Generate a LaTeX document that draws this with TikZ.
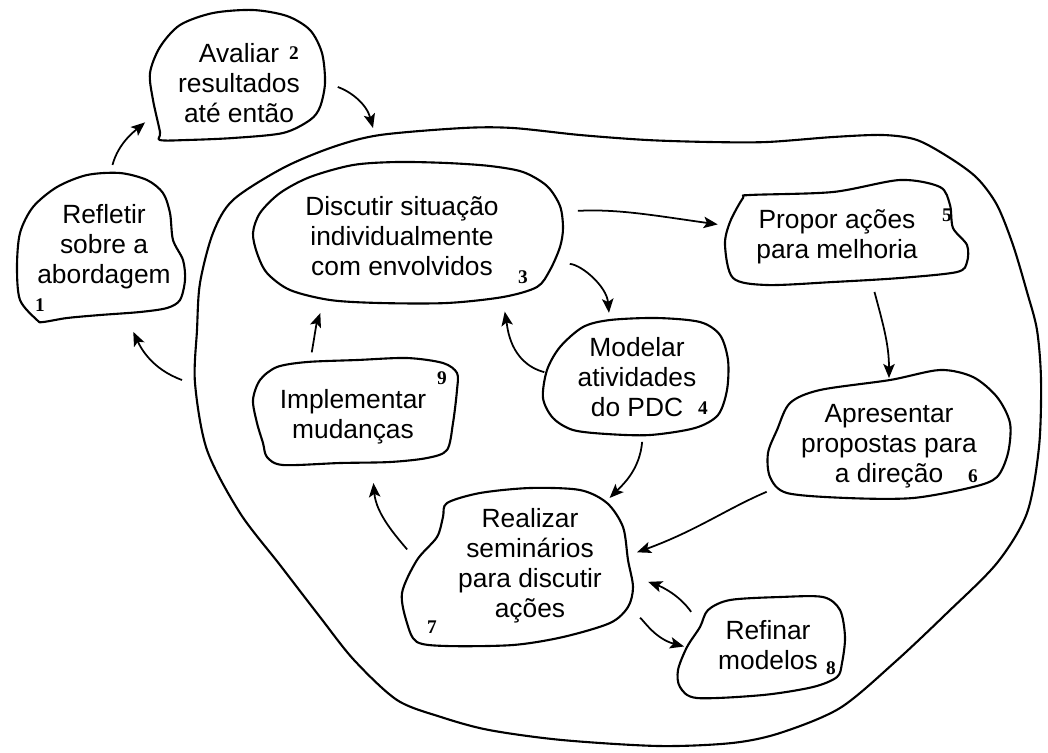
\documentclass[tikz,border=0pt]{standalone}
\usepackage{fontspec}
\setmainfont{Liberation Sans}
\newfontfamily\numfamily{Liberation Serif}
\usetikzlibrary{shapes.geometric,arrows.meta}

\begin{document}
\begin{tikzpicture}[x=0.02cm, y=-0.02cm, >={Stealth[length=8pt,width=6.5pt,inset=1.8pt]}]
    \tikzstyle{stepnode} = [shape=ellipse, align=center, inner sep=0pt, outer sep=0pt, font=\fontsize{15}{17}\selectfont]
    \tikzstyle{blob} = [draw, line width=1.2pt, line join=round]
    \tikzstyle{num} = [font=\numfamily\bfseries\fontsize{11}{11}\selectfont, inner sep=0pt]
    \tikzstyle{flow} = [->, line width=1pt]
    \useasboundingbox (0,0) rectangle (1048,752);

    %Creating Steps and Numbers
    \node[stepnode, minimum width=3.8cm, minimum height=3.0cm] (s1) at (104,247) {Refletir\\sobre a\\abordagem};
    \node[stepnode, minimum width=3.52cm, minimum height=2.6cm] (s2) at (239,83) {Avaliar\\resultados\\até então};
    \node[stepnode, minimum width=6.4cm, minimum height=2.8cm] (s3) at (402,236) {Discutir situação\\individualmente\\com envolvidos};
    \node[stepnode, minimum width=3.72cm, minimum height=2.48cm] (s4) at (637,377) {Modelar\\atividades\\do PDC};
    \node[stepnode, minimum width=4.84cm, minimum height=2.08cm] (s5) at (837,237) {Propor ações\\para melhoria};
    \node[stepnode, minimum width=4.98cm, minimum height=2.56cm] (s6) at (889,446) {Apresentar\\propostas para\\a direção};
    \node[stepnode, minimum width=4.24cm, minimum height=3.28cm] (s7) at (530,566) {Realizar\\seminários\\para discutir\\ações};
    \node[stepnode, minimum width=3.36cm, minimum height=2.04cm] (s8) at (768,645) {Refinar\\modelos};
    \node[stepnode, minimum width=4.16cm, minimum height=2.16cm] (s9) at (353,417) {Implementar\\mudanças};

    \node[num] (n1) at (40,305) {1};
    \node[num] (n2) at (294,53) {2};
    \node[num] (n3) at (523,277) {3};
    \node[num] (n4) at (703,408) {4};
    \node[num] (n5) at (947,215) {5};
    \node[num] (n6) at (973,476) {6};
    \node[num] (n7) at (432,627) {7};
    \node[num] (n8) at (831,668) {8};
    \node[num] (n9) at (442,378) {9};

    \coordinate (enter) at (373,128);
    \coordinate (leave) at (182,380);

    %Drawing Blobs
    \draw[blob] plot[smooth cycle] coordinates {(37,320) (20,300) (17,267) (20,233) (33,207) (57,187) (87,175) (120,173) (147,180) (163,193) (170,213) (173,240) (183,260) (185,280) (180,300) (167,308) (140,312) (100,315) (67,318) (43,322)};
    \draw[blob] plot[smooth cycle] coordinates {(160,132) (153,100) (150,73) (160,47) (180,25) (213,13) (253,10) (287,16) (310,30) (322,53) (325,83) (320,107) (310,120) (283,133) (233,138) (187,140) (160,140)};
    \draw[blob] plot[smooth cycle] coordinates {(257,253) (253,233) (260,213) (280,193) (310,177) (353,165) (397,162) (447,163) (490,166) (523,172) (547,186) (560,206) (563,228) (560,247) (550,270) (537,287) (503,297) (447,303) (380,303) (330,300) (290,290) (267,273)};
    \draw[blob] plot[smooth cycle] coordinates {(547,370) (560,347) (583,327) (610,320) (657,318) (700,322) (720,335) (728,360) (727,390) (718,415) (695,428) (650,435) (607,434) (573,430) (553,418) (543,398)};
    \draw[blob] plot[smooth cycle] coordinates {(750,195) (833,192) (900,180) (940,187) (950,205) (953,228) (967,245) (967,262) (957,272) (900,278) (833,282) (767,285) (733,278) (725,245) (730,222) (743,198)};
    \draw[blob] plot[smooth cycle] coordinates {(790,403) (820,390) (890,380) (940,370) (973,377) (997,397) (1010,423) (1008,453) (997,477) (973,487) (913,498) (847,498) (787,493) (770,477) (768,453) (777,430)};
    \draw[blob] plot[smooth cycle] coordinates {(447,503) (480,493) (530,488) (580,490) (607,503) (623,527) (628,560) (633,587) (628,607) (610,623) (563,637) (513,645) (447,646) (417,642) (407,623) (402,593) (417,560) (437,537) (443,517)};
    \draw[blob] plot[smooth cycle] coordinates {(708,610) (730,600) (780,597) (823,597) (840,610) (845,637) (842,663) (837,677) (813,687) (763,695) (697,698) (680,687) (678,670) (687,647) (700,627)};
    \draw[blob] plot[smooth cycle] coordinates {(260,380) (253,400) (257,423) (263,443) (267,457) (283,465) (340,463) (390,462) (427,458) (447,450) (453,423) (457,390) (457,373) (443,363) (407,358) (357,360) (307,362) (277,367)};
    % outer region
    \draw[blob] plot[smooth cycle] coordinates {(197,330) (200,283) (213,233) (233,200) (283,168) (333,147) (380,135) (463,128) (513,128) (580,135) (647,140) (710,142) (767,142) (833,137) (883,135) (917,140) (950,158) (977,178) (997,205) (1013,245) (1027,292) (1037,330) (1041,380) (1039,447) (1027,513) (997,563) (947,613) (895,662) (840,708) (780,733) (732,743) (659,746) (562,740) (489,730) (441,717) (397,700) (354,660) (320,617) (280,565) (240,513) (207,450) (195,383)};

    %Connecting Steps
    \draw[flow, shorten <=0.15cm, shorten >=0.37cm] (s1.85) to[out=75, in=220] (s2.199);
    \draw[flow, shorten <=0.23cm] (s2.0) to[out=-20, in=105] (enter);
    \draw[flow, shorten >=0.27cm] (leave) to[out=160, in=-65] (s1.288);
    \draw[flow, shorten <=0.51cm, shorten >=1pt] (s3.9) to[out=3, in=172] (s5.174);
    \draw[flow, shorten <=0.39cm, shorten >=0.1cm] (s3.350) to[out=-5, in=95] (s4.115);
    \draw[flow, shorten >=0.42cm] (s4.177) to[out=165, in=-80] (s3.331);
    \draw[flow, shorten <=0.32cm, shorten >=0.33cm] (s9.132) to[out=80, in=-110] (s3.219);
    \draw[flow, shorten <=0.11cm, shorten >=0.08cm] (s5.306) to[out=-75, in=90] (s6.90);
    \draw[flow, shorten <=0.06cm, shorten >=0.22cm] (s4.275) to[out=-95, in=45] (s7.40);
    \draw[flow, shorten <=0.45cm, shorten >=0.05cm] (s6.200) to[out=203, in=20] (s7.7);
    \draw[flow, shorten <=0.53cm, shorten >=0.26cm] (s7.182) to[out=130, in=-85] (s9.290);
    \draw[flow, shorten <=0.17cm, shorten >=0.28cm] (s8.160) to[out=125, in=-20] (s7.354);
    \draw[flow, shorten <=0.43cm] (s7.339) to[out=-45, in=165] (s8.181);
\end{tikzpicture}
\end{document}
